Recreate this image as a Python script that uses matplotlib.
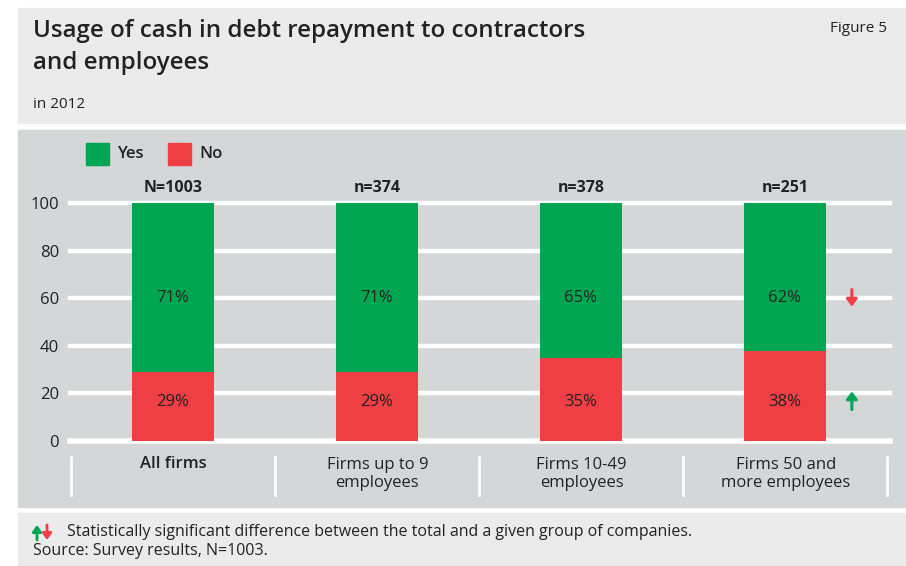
import matplotlib
matplotlib.use("Agg")
import matplotlib.pyplot as plt
from matplotlib.patches import Rectangle, FancyArrowPatch

categories = ["All firms", "Firms up to 9\nemployees", "Firms 10-49\nemployees", "Firms 50 and\nmore employees"]
sample_sizes = ["N=1003", "n=374", "n=378", "n=251"]
yes_values = [71, 71, 65, 62]
no_values = [29, 29, 35, 38]
yticks = [0, 20, 40, 60, 80, 100]

GREEN = "#00a651"
RED = "#ef3e44"
PANEL_LIGHT = "#ebebeb"
PANEL_DARK = "#d5d6d8"
TEXT = "#222222"

plt.rcParams["font.family"] = ["Open Sans", "DejaVu Sans"]

W, H = 906, 566
fig = plt.figure(figsize=(W / 100, H / 100), dpi=100)


def fx(px):
    return px / W


def fy(py):
    return 1 - py / H


def panel(top, bottom, color):
    fig.patches.append(Rectangle((fx(18), fy(bottom)), fx(888), (bottom - top) / H,
                                 transform=fig.transFigure, color=color, zorder=-10))


ARROW = "-|>,head_width=0.32,head_length=0.42"
SMALL_ARROW = "-|>,head_width=0.27,head_length=0.38"

# background panels
panel(8, 123, PANEL_LIGHT)
panel(130, 507, PANEL_DARK)
panel(513, 566, PANEL_LIGHT)

# headings
fig.text(fx(33), fy(31), "Usage of cash in debt repayment to contractors",
         fontsize=17.4, fontweight="semibold", color=TEXT, va="center", ha="left")
fig.text(fx(33), fy(63), "and employees",
         fontsize=17.4, fontweight="semibold", color=TEXT, va="center", ha="left")
fig.text(fx(33), fy(104), "in 2012", fontsize=11, color=TEXT, va="center", ha="left")
fig.text(fx(887), fy(28), "Figure 5", fontsize=11, color=TEXT, va="center", ha="right")

# main axes
ax = fig.add_axes([fx(70), fy(441), fx(890) - fx(70), (441 - 203) / H])
ax.set_facecolor("none")
x = list(range(len(categories)))
ax.set_xlim(-0.505, 3.515)
ax.set_ylim(0, 100)
for t in yticks:
    ax.axhline(t, color="white", lw=3.2 if t else 4, zorder=1, clip_on=False)

ax.bar(x, no_values, width=0.4, color=RED, zorder=2)
ax.bar(x, yes_values, width=0.4, bottom=no_values, color=GREEN, zorder=2)

for i in x:
    ax.text(i, 16.5, f"{no_values[i]}%", ha="center", va="center",
            fontsize=12, color=TEXT, zorder=3)
    ax.text(i, 60, f"{yes_values[i]}%", ha="center", va="center",
            fontsize=12, color=TEXT, zorder=3)
    ax.text(i, 100 + 6.5, sample_sizes[i], ha="center", va="center",
            fontsize=11.5, fontweight="bold", color=TEXT, zorder=3)

for s in ax.spines.values():
    s.set_visible(False)
ax.set_xticks([])
ax.set_yticks(yticks)
ax.set_yticklabels([str(t) for t in yticks], fontsize=12, color=TEXT)
ax.tick_params(axis="y", length=0, pad=8)

# significance markers for the largest group
ax.annotate("", xy=(3.328, 56.5), xytext=(3.328, 63.6),
            arrowprops=dict(arrowstyle=ARROW, lw=2.2, color=RED,
                            shrinkA=0, shrinkB=0), zorder=3)
ax.annotate("", xy=(3.328, 20.8), xytext=(3.328, 13.2),
            arrowprops=dict(arrowstyle=ARROW, lw=2.2, color=GREEN,
                            shrinkA=0, shrinkB=0), zorder=3)

# category labels with separators
for i, lab in enumerate(categories):
    cx = fx(173 + 204.3 * i)
    bold = i == 0
    fig.text(cx, fy(464) if bold else fy(474), lab, ha="center", va="center",
             fontsize=12, fontweight="semibold" if bold else "normal",
             color=TEXT, linespacing=1.2)
for sx in [71, 275, 479, 683, 887]:
    fig.add_artist(plt.Line2D([fx(sx), fx(sx)], [fy(457), fy(495)],
                              transform=fig.transFigure, color="white", lw=2))

# legend
fig.patches.append(Rectangle((fx(86), fy(165)), fx(23), 22 / H,
                             transform=fig.transFigure, color=GREEN))
fig.text(fx(117), fy(154), "Yes", fontsize=12, fontweight="semibold", color=TEXT, va="center")
fig.patches.append(Rectangle((fx(168), fy(165)), fx(23), 22 / H,
                             transform=fig.transFigure, color=RED))
fig.text(fx(199), fy(154), "No", fontsize=12, fontweight="semibold", color=TEXT, va="center")

# footnote
fig.add_artist(FancyArrowPatch((fx(37), fy(540)), (fx(37), fy(525)),
                               transform=fig.transFigure, arrowstyle=SMALL_ARROW,
                               mutation_scale=10, lw=2, color=GREEN,
                               shrinkA=0, shrinkB=0))
fig.add_artist(FancyArrowPatch((fx(47), fy(525)), (fx(47), fy(540)),
                               transform=fig.transFigure, arrowstyle=SMALL_ARROW,
                               mutation_scale=10, lw=2, color=RED,
                               shrinkA=0, shrinkB=0))
fig.text(fx(67), fy(532), "Statistically significant difference between the total and a given group of companies.",
         fontsize=11.5, color=TEXT, va="center")
fig.text(fx(33), fy(551), "Source: Survey results, N=1003.", fontsize=11.5, color=TEXT, va="center")

fig.savefig("out.png", dpi=100, facecolor="white")
